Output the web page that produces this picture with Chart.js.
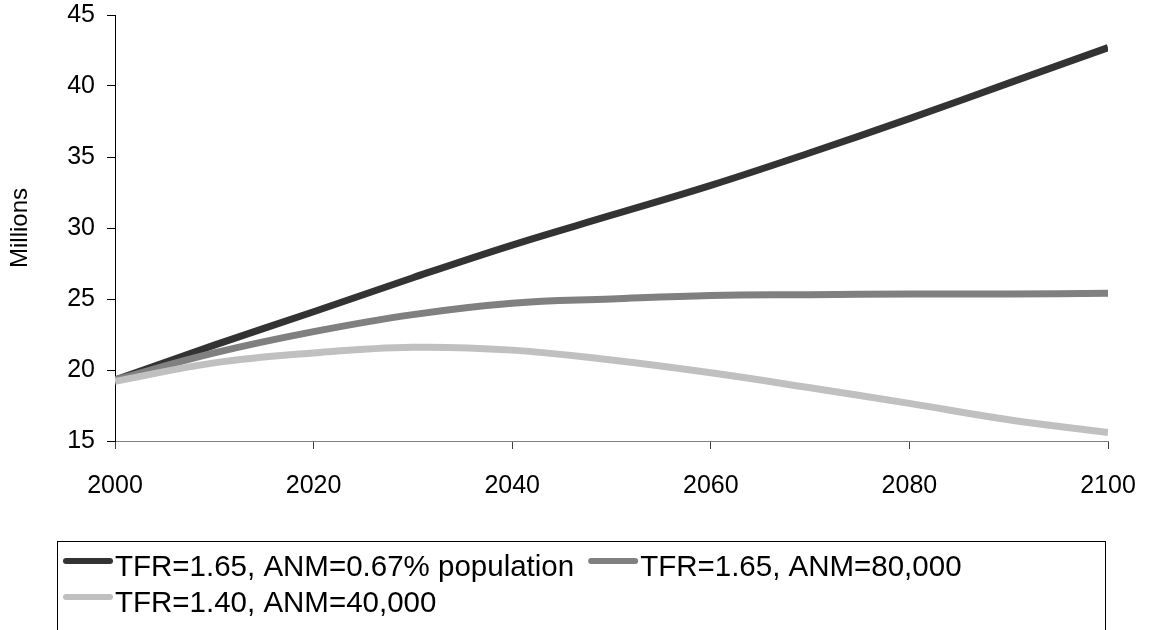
<!DOCTYPE html>
<html>
<head>
<meta charset="utf-8">
<script src="https://cdn.jsdelivr.net/npm/chart.js@4.4.1/dist/chart.umd.min.js"></script>
<style>
  html, body { margin: 0; padding: 0; background: #fff; }
  canvas { display: block; }
</style>
</head>
<body>
<canvas id="popChart" width="1149" height="630"></canvas>
<script>
const years = [2000, 2010, 2020, 2030, 2040, 2050, 2060, 2070, 2080, 2090, 2100];
const anmPct = [19.3, 21.75, 24.1, 26.5, 28.8, 30.9, 33.0, 35.3, 37.7, 40.2, 42.7];
const anm80k = [19.3, 21.2, 22.7, 23.9, 24.7, 25.0, 25.25, 25.3, 25.35, 25.35, 25.4];
const anm40k = [19.2, 20.5, 21.2, 21.6, 21.4, 20.7, 19.8, 18.75, 17.65, 16.5, 15.6];
const seriesLabels = ['TFR=1.65, ANM=0.67% population', 'TFR=1.65, ANM=80,000', 'TFR=1.40, ANM=40,000'];
const seriesColors = ['#333333', '#808080', '#c0c0c0'];

const FONT = 'Liberation Sans, Arial, sans-serif';

function toPoints(vals) {
  return vals.map((v, i) => ({ x: years[i], y: v }));
}

// legend in a framed box, like the spreadsheet original
const boxLegend = {
  id: 'boxLegend',
  afterDraw(chart) {
    const ctx = chart.ctx;
    ctx.save();
    ctx.strokeStyle = '#000';
    ctx.lineWidth = 1;
    ctx.strokeRect(57.5, 541.5, 1048, 120);

    ctx.font = '29.5px ' + FONT;
    ctx.textBaseline = 'middle';
    ctx.fillStyle = '#000';
    const rows = [[0, 1], [2]];
    rows.forEach((row, r) => {
      let x = 63;
      const lineY = 561 + r * 36;
      const textY = 568 + r * 36;
      row.forEach(i => {
        const ds = chart.data.datasets[i];
        ctx.strokeStyle = ds.borderColor;
        ctx.lineWidth = 6;
        ctx.lineCap = 'round';
        ctx.beginPath();
        ctx.moveTo(x + 3, lineY);
        ctx.lineTo(x + 47, lineY);
        ctx.stroke();
        ctx.fillText(ds.label, x + 52, textY);
        x += 52 + ctx.measureText(ds.label).width + 14;
      });
    });
    ctx.restore();
  }
};

new Chart(document.getElementById('popChart'), {
  type: 'line',
  data: {
    datasets: [anmPct, anm80k, anm40k].map((vals, i) => ({
      label: seriesLabels[i],
      data: toPoints(vals),
      borderColor: seriesColors[i],
      backgroundColor: seriesColors[i],
      borderWidth: 7,
      pointRadius: 0,
      tension: 0.4,
      order: 3 - i
    }))
  },
  options: {
    responsive: false,
    animation: false,
    layout: { padding: { left: 0, right: 41, top: 15, bottom: 129 } },
    plugins: {
      legend: { display: false },
      tooltip: { enabled: false }
    },
    scales: {
      x: {
        type: 'linear',
        min: 2000,
        max: 2100,
        afterFit: s => { s.height = 60; s.paddingLeft = 0; s.paddingRight = 0; },
        border: { display: true, color: '#808080', width: 1 },
        grid: { drawOnChartArea: false, drawTicks: true, tickLength: 8, color: '#404040' },
        ticks: {
          stepSize: 20,
          padding: 22,
          color: '#000',
          font: { family: FONT, size: 25 },
          callback: v => String(v)
        }
      },
      y: {
        min: 15,
        max: 45,
        afterFit: s => { s.width = 115; s.paddingTop = 0; s.paddingBottom = 0; },
        border: { display: true, color: '#000', width: 1 },
        grid: { drawOnChartArea: false, drawTicks: true, tickLength: 8, color: '#000' },
        title: {
          display: true,
          text: 'Millions',
          color: '#000',
          font: { family: FONT, size: 24 },
          padding: { top: 6, bottom: 0 }
        },
        ticks: {
          stepSize: 5,
          padding: 12,
          color: '#000',
          font: { family: FONT, size: 25 }
        }
      }
    }
  },
  plugins: [boxLegend]
});
</script>
</body>
</html>
